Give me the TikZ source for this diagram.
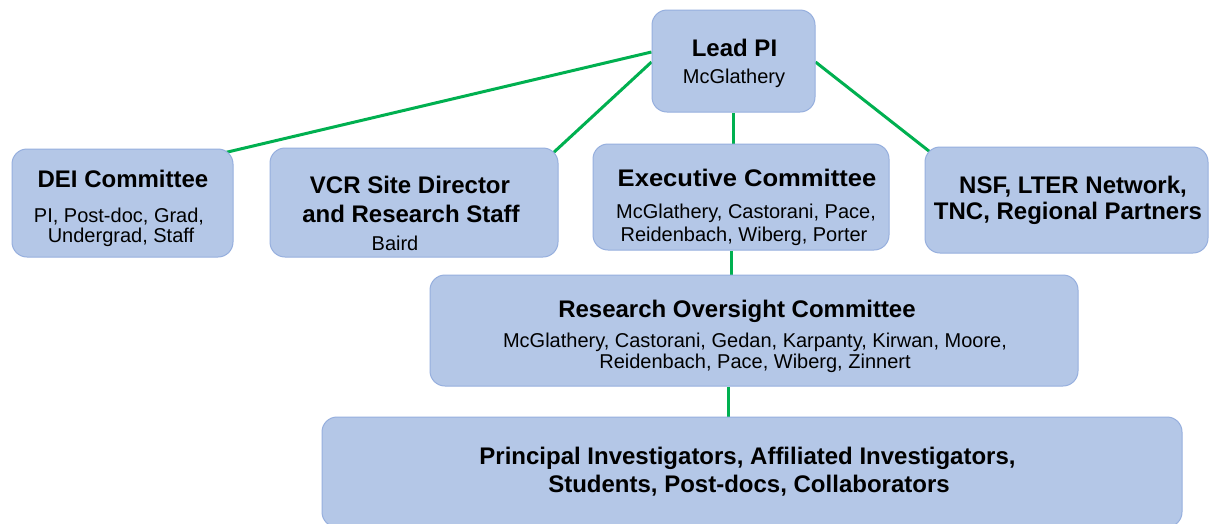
\documentclass[tikz,border=0pt]{standalone}
\usepackage{fontspec}
\setmainfont{Liberation Sans}
\usetikzlibrary{backgrounds}
\definecolor{boxfill}{RGB}{180,199,231}
\definecolor{boxline}{RGB}{150,175,222}
\definecolor{linkgreen}{RGB}{0,176,80}
\begin{document}
\begin{tikzpicture}[x=1pt,y=-1pt,
  box/.style={draw=boxline, fill=boxfill, line width=1pt, rounded corners=15pt, inner sep=0pt},
  head/.style={anchor=base, inner sep=0pt, font=\fontsize{24}{28}\selectfont\bfseries},
  names/.style={anchor=base, inner sep=0pt, font=\fontsize{20}{23}\selectfont},
  link/.style={draw=linkgreen, line width=3pt}]
\useasboundingbox (0,0) rectangle (1210,523);

% boxes
\node[box, minimum width=163pt, minimum height=102pt] (lead) at (733.5,61) {};
\node[box, minimum width=221pt, minimum height=108pt] (dei)  at (122.5,203) {};
\node[box, minimum width=288pt, minimum height=109pt] (vcr)  at (414,202.5) {};
\node[box, minimum width=296pt, minimum height=106pt] (exec) at (741,197) {};
\node[box, minimum width=283pt, minimum height=106pt] (nsf)  at (1066.5,200) {};
\node[box, minimum width=648pt, minimum height=111pt] (roc)  at (754,330.5) {};
\node[box, minimum width=860pt, minimum height=110pt] (pis)  at (752,472) {};

% labels
\node[head]  (leadT)  at (734.5,56) {Lead PI};
\node[names] (leadS)  at (734,83) {McGlathery};

\node[head]  (deiT)   at (123,187) {DEI Committee};
\node[names] (deiS1)  at (119,222) {PI, Post-doc, Grad,};
\node[names] (deiS2)  at (121,242) {Undergrad, Staff};

\node[head]  (vcrT1)  at (410,193) {VCR Site Director};
\node[head]  (vcrT2)  at (411,222) {and Research Staff};
\node[names] (vcrS)   at (395,250) {Baird};

\node[head]  (execT)  at (747,186) {\scalebox{1.065}[1]{Executive Committee}};
\node[names] (execS1) at (746,218) {McGlathery, Castorani, Pace,};
\node[names] (execS2) at (744,241) {Reidenbach, Wiberg, Porter};

\node[head]  (nsfT1)  at (1073,193) {NSF, LTER Network,};
\node[head]  (nsfT2)  at (1068,219) {TNC, Regional Partners};

\node[head]  (rocT)   at (737,317) {Research Oversight Committee};
\node[names] (rocS1)  at (755,347) {McGlathery, Castorani, Gedan, Karpanty, Kirwan, Moore,};
\node[names] (rocS2)  at (755,368) {Reidenbach, Pace, Wiberg, Zinnert};

\node[head]  (pisT1)  at (747.5,464) {Principal Investigators, Affiliated Investigators,};
\node[head]  (pisT2)  at (749,492) {Students, Post-docs, Collaborators};

% connectors, behind the boxes
\begin{scope}[on background layer]
  \fill[white] (0,0) rectangle (1210,523);
  \draw[link] ([yshift=9pt]lead.west) -- ([xshift=-8pt,yshift=-4pt]dei.north east);
  \draw[link] ([yshift=-1pt]lead.west) -- ([xshift=-6pt,yshift=-6pt]vcr.north east);
  \draw[link] ([yshift=-1pt]lead.east) -- ([xshift=5pt,yshift=-5pt]nsf.north west);
  \draw[link] (lead.south) -- (lead.south |- exec.north);
  \draw[link] ([xshift=-10pt]exec.south) -- ([xshift=-10pt]exec.south |- roc.north);
  \draw[link] ([xshift=-26pt]roc.south) -- ([xshift=-26pt]roc.south |- pis.north);
\end{scope}
\end{tikzpicture}
\end{document}
